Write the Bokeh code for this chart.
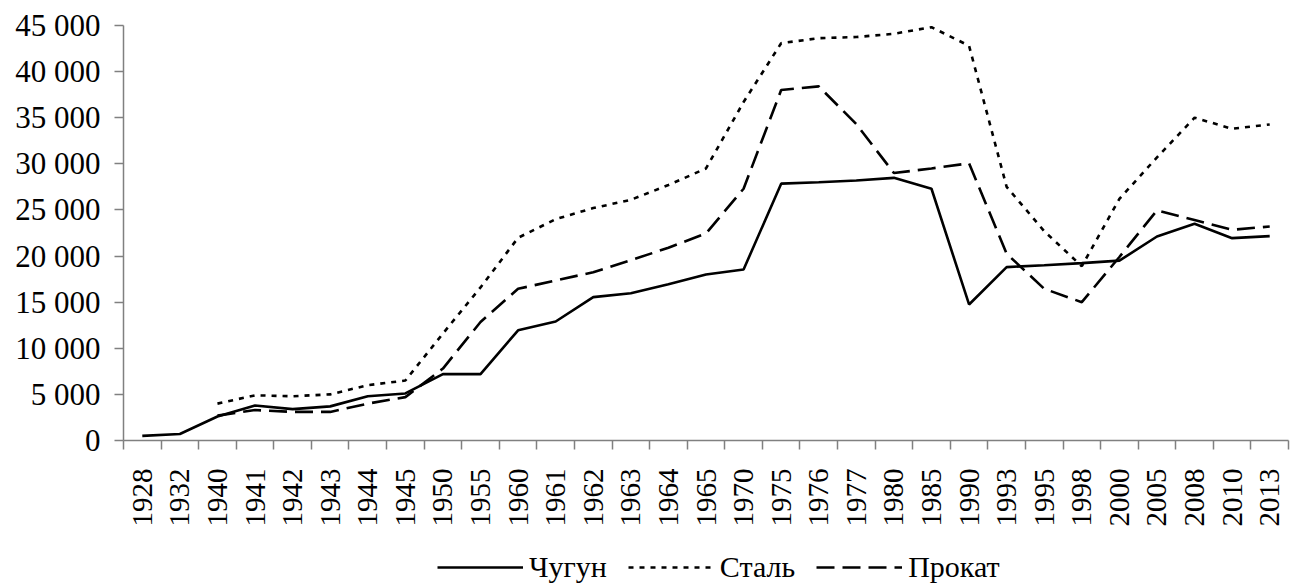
import math
from bokeh.plotting import figure
from bokeh.layouts import column
from bokeh.models import FixedTicker, Legend, LegendItem, Range1d, ColumnDataSource
from bokeh.embed import file_html
from bokeh.resources import INLINE

years = ["1928", "1932", "1940", "1941", "1942", "1943", "1944", "1945", "1950", "1955",
         "1960", "1961", "1962", "1963", "1964", "1965", "1970", "1975", "1976", "1977",
         "1980", "1985", "1990", "1993", "1995", "1998", "2000", "2005", "2008", "2010", "2013"]

nan = float("nan")
chugun = [500, 700, 2600, 3800, 3400, 3700, 4800, 5100, 7200, 7200,
          11950, 12900, 15550, 15970, 16950, 18000, 18540, 27850, 28000, 28200,
          28480, 27300, 14750, 18800, 19000, 19230, 19500, 22120, 23500, 21940, 22160]
stal = [nan, nan, 4000, 4900, 4800, 5000, 6000, 6500, 11600, 16600,
        21980, 24000, 25200, 26100, 27700, 29500, 36700, 43080, 43630, 43750,
        44100, 44820, 42800, 27500, 22700, 18900, 26200, 30700, 35000, 33800, 34270]
prokat = [nan, nan, 2700, 3300, 3100, 3100, 4000, 4700, 7800, 12850,
          16450, 17350, 18250, 19550, 20900, 22450, 27300, 38000, 38400, 34300,
          29000, 29500, 30050, 20250, 16450, 15000, 19900, 24950, 23900, 22850, 23200]
series_names = ["Чугун", "Сталь", "Прокат"]

y_ticks = list(range(0, 45001, 5000))
y_labels = {v: f"{v:,}".replace(",", " ") for v in y_ticks}

FONT = "'Liberation Serif', serif"
STYLES = [dict(line_color="black", line_width=2.6),
          dict(line_color="black", line_width=2.6, line_dash="5 6"),
          dict(line_color="black", line_width=2.6, line_dash="18 8")]

src = ColumnDataSource(dict(x=[i + 0.5 for i in range(len(years))],
                            chugun=chugun, stal=stal, prokat=prokat))

p = figure(width=1299, height=530, output_backend="svg", toolbar_location=None,
           x_range=Range1d(0, len(years)), y_range=Range1d(0, 45000),
           min_border_left=123, min_border_right=11, min_border_top=25,
           min_border_bottom=90)

for col, st in zip(["chugun", "stal", "prokat"], STYLES):
    p.line("x", col, source=src, **st)

p.xgrid.visible = False
p.ygrid.visible = False
p.outline_line_color = None
p.background_fill_color = "white"
p.border_fill_color = "white"

xa = p.xaxis[0]
xa.ticker = FixedTicker(ticks=[i + 0.5 for i in range(len(years))],
                        minor_ticks=list(range(len(years) + 1)))
xa.major_label_overrides = {i + 0.5: y for i, y in enumerate(years)}
xa.major_label_orientation = math.pi / 2
xa.major_tick_line_color = None
xa.major_tick_out = 8
xa.major_tick_in = 0
xa.minor_tick_out = 9
xa.minor_tick_in = 0
xa.minor_tick_line_color = "#808080"
xa.minor_tick_line_width = 1.5
xa.axis_line_color = "#808080"
xa.axis_line_width = 1.5
xa.major_label_standoff = 19
xa.major_label_text_font = FONT
xa.major_label_text_font_size = "29px"
xa.major_label_text_color = "black"

ya = p.yaxis[0]
ya.ticker = FixedTicker(ticks=y_ticks, minor_ticks=[])
ya.major_label_overrides = y_labels
ya.major_tick_out = 9
ya.major_tick_in = 0
ya.major_tick_line_color = "#808080"
ya.major_tick_line_width = 1.5
ya.minor_tick_line_color = None
ya.axis_line_color = "#808080"
ya.axis_line_width = 1.5
ya.major_label_standoff = 14
ya.major_label_text_font = FONT
ya.major_label_text_font_size = "31px"
ya.major_label_text_color = "black"

# legend strip beneath the chart
pl = figure(width=1299, height=56, output_backend="svg", toolbar_location=None,
            x_range=Range1d(0, 1), y_range=Range1d(0, 1),
            min_border_left=0, min_border_right=0, min_border_top=0, min_border_bottom=0)
pl.axis.visible = False
pl.xgrid.visible = False
pl.ygrid.visible = False
pl.outline_line_color = None
items = []
for name, st in zip(series_names, STYLES):
    r = pl.line(x=[nan, nan], y=[nan, nan], **st)
    items.append(LegendItem(label=name, renderers=[r]))

legend = Legend(items=items, orientation="horizontal", location=(314, 2),
                glyph_width=86, glyph_height=20, label_standoff=6, spacing=21,
                label_text_font=FONT, label_text_font_size="30px",
                label_text_color="black", border_line_color=None,
                background_fill_alpha=0, padding=0, margin=0)
pl.add_layout(legend, "center")

layout = column(p, pl, spacing=0)
open("out.html", "w").write(file_html(layout, INLINE))
